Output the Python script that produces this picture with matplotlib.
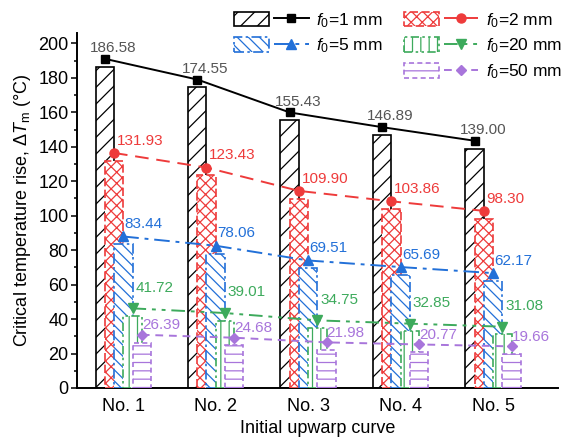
import numpy as np
import matplotlib
matplotlib.use("Agg")
import matplotlib.pyplot as plt
from matplotlib.legend_handler import HandlerTuple
from matplotlib.patches import Rectangle
from matplotlib.lines import Line2D
from matplotlib.ticker import MultipleLocator

# data
CURVES = ["No. 1", "No. 2", "No. 3", "No. 4", "No. 5"]
F0_LABELS = ["1", "2", "5", "20", "50"]
DT_F0_1 = [186.58, 174.55, 155.43, 146.89, 139.00]
DT_F0_2 = [131.93, 123.43, 109.90, 103.86, 98.30]
DT_F0_5 = [83.44, 78.06, 69.51, 65.69, 62.17]
DT_F0_20 = [41.72, 39.01, 34.75, 32.85, 31.08]
DT_F0_50 = [26.39, 24.68, 21.98, 20.77, 19.66]
SERIES = [DT_F0_1, DT_F0_2, DT_F0_5, DT_F0_20, DT_F0_50]

LINE_LIFT = 4.5   # trend lines sit a little above the bar tops, as in the original

plt.rcParams["font.family"] = ["Liberation Sans", "DejaVu Sans"]
plt.rcParams["mathtext.fontset"] = "custom"
plt.rcParams["mathtext.rm"] = "Liberation Sans"
plt.rcParams["mathtext.it"] = "Liberation Sans:italic"
plt.rcParams["hatch.linewidth"] = 0.9

COLORS = ["#000000", "#EE3B3B", "#2270D8", "#3DAA5C", "#A875DB"]
TXT_COLORS = ["#555555", "#EE3B3B", "#2270D8", "#3DAA5C", "#A875DB"]
HATCH = ["//", "xxx", "\\\\\\", "||", "--"]
EDGE_LS = ["-", (0, (5, 2)), (0, (6, 2, 1.5, 2)), (0, (5, 2, 1.5, 2, 1.5, 2)), (0, (3, 2))]
LINE_LS = ["-", (0, (7, 4)), (0, (8, 3, 2, 3)), (0, (7, 3, 2, 3, 2, 3)), (0, (4, 3))]
MARKERS = ["s", "o", "^", "v", "D"]
MSIZE = [5.5, 6.5, 6.5, 6.5, 5.0]
# label offsets (points) from the marker
LBL_OFF = [(-11, 5), (2, 6), (1, 6), (2, 12), (0, 4)]

fig = plt.figure(figsize=(5.63, 4.41), dpi=100)
ax = fig.add_axes([0.1368, 0.1202, 0.991 - 0.1368, 0.925 - 0.1202])

x = np.arange(1, len(CURVES) + 1)
bw = 0.2
shift = 0.1

handles = []
for i, vals in enumerate(SERIES):
    xs = x + (i - 2) * shift
    ax.bar(xs, vals, width=bw, facecolor="white", edgecolor=COLORS[i],
           hatch=HATCH[i], linewidth=1.2, linestyle=EDGE_LS[i], zorder=2 + i)
for i, vals in enumerate(SERIES):
    xs = x + (i - 2) * shift
    ys = np.array(vals) + LINE_LIFT
    ax.plot(xs, ys, color=COLORS[i], linestyle=LINE_LS[i], linewidth=1.4,
            marker=MARKERS[i], markersize=MSIZE[i], zorder=10)
    for xv, yv, v in zip(xs, ys, vals):
        ax.annotate(f"{v:.2f}", (xv, yv), xytext=LBL_OFF[i],
                    textcoords="offset points", ha="left", va="baseline",
                    fontsize=11, color=TXT_COLORS[i], zorder=11)
    patch = Rectangle((0, 0), 1, 1, facecolor="white", edgecolor=COLORS[i],
                      hatch=HATCH[i], linewidth=1.2, linestyle=EDGE_LS[i])
    line = Line2D([], [], color=COLORS[i], linestyle=LINE_LS[i], linewidth=1.4,
                  marker=MARKERS[i], markersize=MSIZE[i])
    handles.append((patch, line))

ax.set_xlim(0.5, 5.7)
ax.set_ylim(0, 206)
ax.set_xticks(x)
ax.set_xticklabels(CURVES)
ax.yaxis.set_major_locator(MultipleLocator(20))
ax.yaxis.set_minor_locator(MultipleLocator(10))
ax.spines["top"].set_visible(False)
ax.spines["right"].set_visible(False)
ax.spines["left"].set_linewidth(1.4)
ax.spines["bottom"].set_linewidth(1.4)
ax.tick_params(axis="x", direction="in", length=7, width=1.4, labelsize=13, pad=7)
ax.tick_params(axis="y", which="major", direction="out", length=4.5, width=1.1,
               labelsize=13, pad=1.5)
ax.tick_params(axis="y", which="minor", direction="out", length=2.5, width=1.1)
for t in ax.xaxis.get_major_ticks():
    t.tick1line.set_zorder(20)

ax.set_xlabel("Initial upwarp curve", fontsize=13, labelpad=4)
ax.set_ylabel(r"Critical temperature rise, $\Delta \mathit{T}_{\mathrm{m}}$ (°C)",
              fontsize=13, labelpad=4)

# legend: column 1 -> f0=1, 5 ; column 2 -> f0=2, 20, 50
blank = (Rectangle((0, 0), 1, 1, visible=False), Line2D([], [], visible=False))
order = [handles[0], handles[2], blank, handles[1], handles[3], handles[4]]
labels = [r"$f_0$=1 mm", r"$f_0$=5 mm", "", r"$f_0$=2 mm",
          r"$f_0$=20 mm", r"$f_0$=50 mm"]
fig.legend(order, labels, loc="upper left", bbox_to_anchor=(234 / 563, 1 - 11 / 441),
           ncol=2, frameon=False, fontsize=12.5, borderpad=0, borderaxespad=0,
           handlelength=4.3, handleheight=0.9, handletextpad=0.45,
           labelspacing=0.4, columnspacing=1.2,
           handler_map={tuple: HandlerTuple(ndivide=2, pad=0.3)})

fig.savefig("out.png", dpi=100)
